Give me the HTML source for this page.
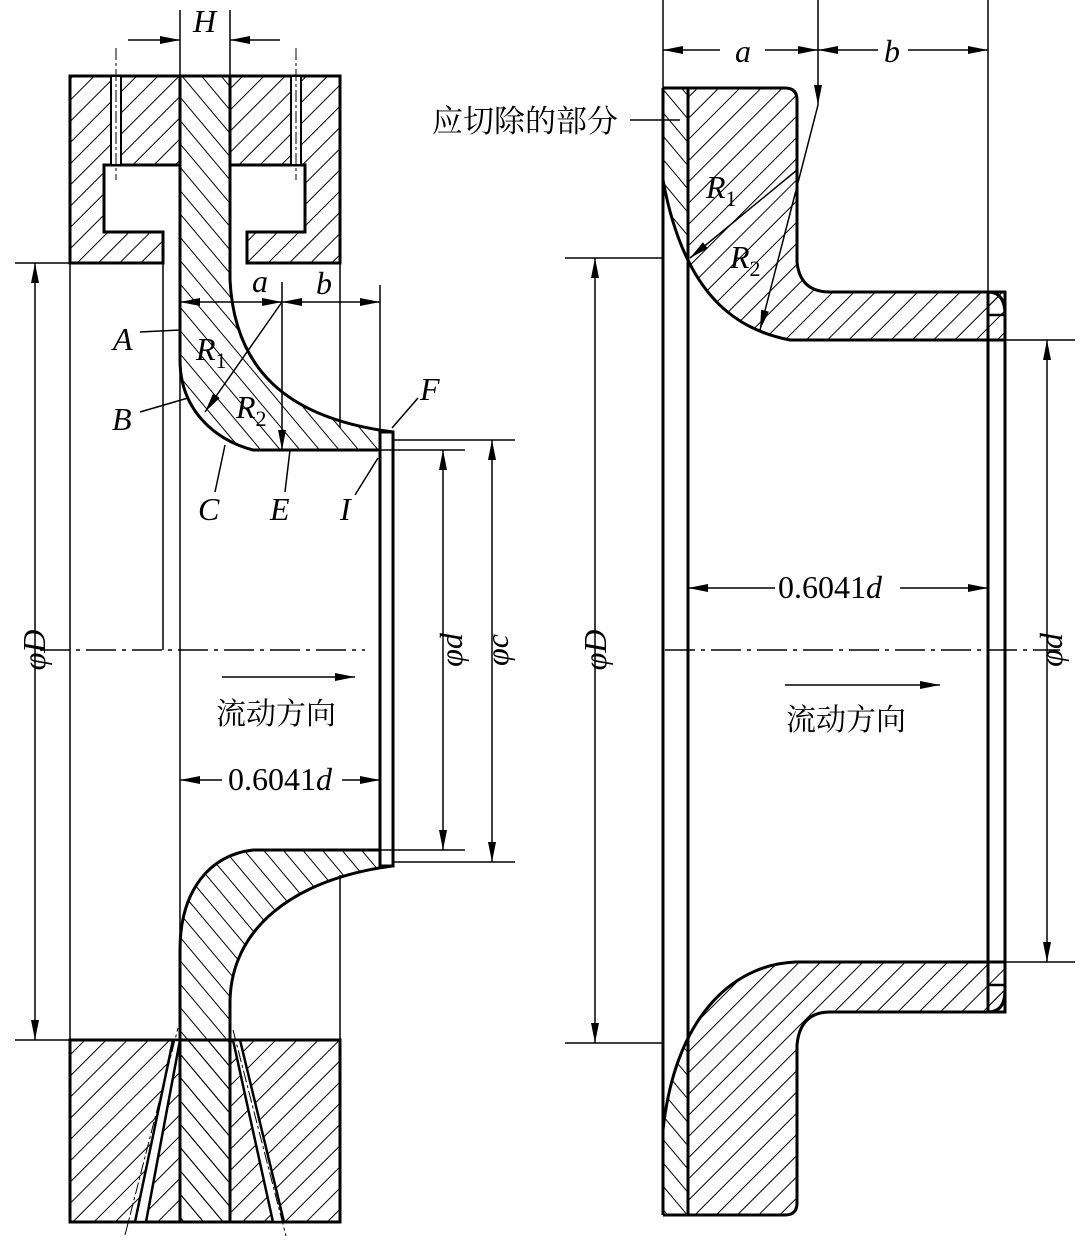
<!DOCTYPE html>
<html><head><meta charset="utf-8"><style>
html,body{margin:0;padding:0;background:#fff}
svg{display:block}
text{font-family:"Liberation Serif","Noto Serif CJK SC",serif;fill:#000}
.it{font-style:italic}
.cn{font-family:"Liberation Serif","Noto Serif CJK SC",serif}
</style></head><body>
<svg width="1080" height="1246" viewBox="0 0 1080 1246" xmlns="http://www.w3.org/2000/svg">
<defs>
<pattern id="hf" width="15" height="15" patternUnits="userSpaceOnUse" patternTransform="rotate(45)"><line x1="0" y1="0" x2="0" y2="15" stroke="#000" stroke-width="2"/></pattern>
<pattern id="hb" width="15" height="15" patternUnits="userSpaceOnUse" patternTransform="rotate(-40)"><line x1="0" y1="0" x2="0" y2="15" stroke="#000" stroke-width="2"/></pattern>
<marker id="ar" viewBox="0 0 20 8" refX="20" refY="4" markerWidth="20" markerHeight="8" orient="auto-start-reverse" markerUnits="userSpaceOnUse"><path d="M0,0 L20,4 L0,8 Z" fill="#000"/></marker>
<clipPath id="rtop"><path d="M663,88 L785,88 Q797,88 797,100 L797,262 Q800,292 830,292 L988,292 Q1005,292 1005,315 L1005,340 L790,340 C740,330 685,300 663,180 Z"/></clipPath>
<clipPath id="rbot"><path d="M663,1215 L785,1215 Q797,1215 797,1203 L797,1045 Q800,1012 830,1012 L988,1012 Q1005,1012 1005,990 L1005,962 L795,962 C730,965 675,1020 663,1130 Z"/></clipPath>
</defs>
<g fill="none" stroke="#000">
<path d="M70,76 L180,76 L180,165 L104,165 L104,232 L163,232 L163,263 L70,263 Z" fill="url(#hf)" stroke-width="3"/>
<path d="M230,76 L340,76 L340,263 L247,263 L247,232 L305,232 L305,165 L230,165 Z" fill="url(#hf)" stroke-width="3"/>
<g stroke-width="2">
<rect x="111" y="76" width="10" height="89" fill="#fff"/><line x1="116" y1="48" x2="116" y2="180" stroke-width="1" stroke-dasharray="12,3,3,3"/>
<rect x="291" y="76" width="10" height="89" fill="#fff"/><line x1="296" y1="48" x2="296" y2="180" stroke-width="1" stroke-dasharray="12,3,3,3"/>
</g>
<path d="M180,76 L230,76 L230,280 C235,380 300,420 393,432 L393,450 L253,450 C215,440 180,410 180,360 Z" fill="url(#hb)" stroke-width="3"/>
<path d="M180,1222 L180,950 C180,890 210,855 253,850 L380,850 L392,866 C290,880 232,930 230,1000 L230,1222 Z" fill="url(#hb)" stroke-width="3"/>
<rect x="70" y="1040" width="110" height="182" fill="url(#hf)" stroke-width="3"/>
<rect x="230" y="1040" width="110" height="182" fill="url(#hf)" stroke-width="3"/>
<rect x="180" y="1040" width="50" height="182" fill="url(#hb)" stroke-width="3"/>
<path d="M135,1222 L173,1040 L180,1040 L146,1222 Z" fill="#fff" stroke-width="2.5"/>
<line x1="125" y1="1235" x2="178" y2="1028" stroke-width="1" stroke-dasharray="12,3,3,3"/>
<path d="M233,1040 L240,1040 L284,1222 L273,1222 Z" fill="#fff" stroke-width="2.5"/>
<line x1="233" y1="1030" x2="286" y2="1236" stroke-width="1" stroke-dasharray="12,3,3,3"/>
<rect x="380" y="432" width="13" height="434" fill="#fff" stroke-width="3"/>
<line x1="380" y1="450" x2="393" y2="450" stroke-width="1.5"/>
<line x1="380" y1="850" x2="393" y2="850" stroke-width="1.5"/>
<g stroke-width="1.5">
<line x1="70" y1="263" x2="70" y2="1040"/>
<line x1="180" y1="263" x2="180" y2="1040"/>
<line x1="163" y1="263" x2="163" y2="650"/>
<line x1="340" y1="263" x2="340" y2="428"/>
<line x1="340" y1="875" x2="340" y2="1040"/>
<line x1="15" y1="263" x2="70" y2="263"/>
<line x1="15" y1="1040" x2="70" y2="1040"/>
<line x1="35" y1="263" x2="35" y2="1040" marker-start="url(#ar)" marker-end="url(#ar)"/>
<line x1="40" y1="650" x2="365" y2="650" stroke-dasharray="30,6,4,6"/>
<line x1="180" y1="10" x2="180" y2="76"/>
<line x1="230" y1="10" x2="230" y2="76"/>
<line x1="128" y1="40" x2="180" y2="40" marker-end="url(#ar)"/>
<line x1="280" y1="40" x2="230" y2="40" marker-end="url(#ar)"/>
<line x1="180" y1="302" x2="282" y2="302" marker-start="url(#ar)" marker-end="url(#ar)"/>
<line x1="282" y1="302" x2="380" y2="302" marker-start="url(#ar)" marker-end="url(#ar)"/>
<line x1="282" y1="282" x2="282" y2="450" marker-end="url(#ar)"/>
<line x1="380" y1="285" x2="380" y2="432"/>
<line x1="393" y1="440" x2="515" y2="440"/>
<line x1="393" y1="450" x2="465" y2="450"/>
<line x1="393" y1="850" x2="465" y2="850"/>
<line x1="393" y1="862" x2="515" y2="862"/>
<line x1="443" y1="450" x2="443" y2="850" marker-start="url(#ar)" marker-end="url(#ar)"/>
<line x1="492" y1="440" x2="492" y2="862" marker-start="url(#ar)" marker-end="url(#ar)"/>
<line x1="222" y1="677" x2="355" y2="677" marker-end="url(#ar)"/>
<line x1="180" y1="780" x2="222" y2="780" marker-start="url(#ar)"/>
<line x1="342" y1="780" x2="380" y2="780" marker-end="url(#ar)"/>
<line x1="282" y1="302" x2="205" y2="412" marker-end="url(#ar)"/>
<line x1="140" y1="332" x2="180" y2="330"/>
<line x1="140" y1="412" x2="188" y2="398"/>
<line x1="215" y1="492" x2="225" y2="445"/>
<line x1="285" y1="492" x2="290" y2="450"/>
<line x1="392" y1="428" x2="418" y2="398"/>
<line x1="355" y1="495" x2="378" y2="458"/>
</g>
<g clip-path="url(#rtop)"><rect x="663" y="80" width="350" height="270" fill="url(#hf)" stroke="none"/><rect x="663" y="80" width="25" height="270" fill="#fff" stroke="none"/><rect x="663" y="80" width="25" height="270" fill="url(#hb)" stroke="none"/></g>
<g clip-path="url(#rbot)"><rect x="663" y="950" width="350" height="270" fill="url(#hf)" stroke="none"/><rect x="663" y="950" width="25" height="270" fill="#fff" stroke="none"/><rect x="663" y="950" width="25" height="270" fill="url(#hb)" stroke="none"/></g>
<path d="M663,88 L785,88 Q797,88 797,100 L797,262 Q800,292 830,292 L988,292 Q1005,292 1005,315 L1005,340 L790,340 C740,330 685,300 663,180" stroke-width="3"/>
<path d="M663,1215 L785,1215 Q797,1215 797,1203 L797,1045 Q800,1012 830,1012 L988,1012 Q1005,1012 1005,990 L1005,962 L795,962 C730,965 675,1020 663,1130" stroke-width="3"/>
<line x1="663" y1="88" x2="663" y2="1215" stroke-width="3"/>
<line x1="688" y1="88" x2="688" y2="1215" stroke-width="3"/>
<rect x="988" y="292" width="17" height="720" fill="none" stroke-width="3"/>
<rect x="988" y="292" width="17" height="23" fill="url(#hf)" stroke-width="0"/>
<rect x="988" y="985" width="17" height="27" fill="url(#hf)" stroke-width="0"/>
<line x1="988" y1="315" x2="1005" y2="315" stroke-width="2.5"/>
<line x1="988" y1="985" x2="1005" y2="985" stroke-width="2.5"/>
<g stroke-width="1.5">
<line x1="663" y1="0" x2="663" y2="88"/>
<line x1="988" y1="0" x2="988" y2="292"/>
<line x1="818" y1="0" x2="818" y2="105" marker-end="url(#ar)"/>
<line x1="663" y1="50" x2="720" y2="50" marker-start="url(#ar)"/>
<line x1="765" y1="50" x2="818" y2="50" marker-end="url(#ar)"/>
<line x1="818" y1="50" x2="878" y2="50" marker-start="url(#ar)"/>
<line x1="908" y1="50" x2="988" y2="50" marker-end="url(#ar)"/>
<line x1="818" y1="105" x2="760" y2="330" marker-end="url(#ar)"/>
<line x1="797" y1="170" x2="690" y2="258" marker-end="url(#ar)"/>
<line x1="630" y1="120" x2="680" y2="120"/>
<line x1="565" y1="258" x2="663" y2="258"/>
<line x1="565" y1="1043" x2="663" y2="1043"/>
<line x1="595" y1="258" x2="595" y2="1043" marker-start="url(#ar)" marker-end="url(#ar)"/>
<line x1="1005" y1="340" x2="1075" y2="340"/>
<line x1="1005" y1="962" x2="1075" y2="962"/>
<line x1="1047" y1="340" x2="1047" y2="962" marker-start="url(#ar)" marker-end="url(#ar)"/>
<line x1="688" y1="588" x2="775" y2="588" marker-start="url(#ar)"/>
<line x1="900" y1="588" x2="988" y2="588" marker-end="url(#ar)"/>
<line x1="665" y1="650" x2="1060" y2="650" stroke-dasharray="30,6,4,6"/>
<line x1="785" y1="685" x2="940" y2="685" marker-end="url(#ar)"/>
</g>
</g>
<g font-size="32">
<text x="193" y="32" class="it">H</text>
<text x="252" y="292" class="it">a</text>
<text x="316" y="294" class="it">b</text>
<text x="113" y="350" class="it">A</text>
<text x="112" y="430" class="it">B</text>
<text x="198" y="520" class="it">C</text>
<text x="270" y="520" class="it">E</text>
<text x="420" y="400" class="it">F</text>
<text x="340" y="520" class="it">I</text>
<text x="196" y="360" class="it">R<tspan font-size="22" font-style="normal" dy="8">1</tspan></text>
<text x="236" y="418" class="it">R<tspan font-size="22" font-style="normal" dy="8">2</tspan></text>
<text x="228" y="790">0.6041<tspan class="it">d</tspan></text>
<text transform="translate(45,650) rotate(-90)" text-anchor="middle" class="it">φD</text>
<text transform="translate(462,650) rotate(-90)" text-anchor="middle" class="it">φd</text>
<text transform="translate(508,650) rotate(-90)" text-anchor="middle" class="it">φc</text>
<text x="216" y="724" class="cn" font-size="30">流动方向</text>
<text x="735" y="62" class="it">a</text>
<text x="884" y="62" class="it">b</text>
<text x="706" y="198" class="it">R<tspan font-size="22" font-style="normal" dy="8">1</tspan></text>
<text x="730" y="268" class="it">R<tspan font-size="22" font-style="normal" dy="8">2</tspan></text>
<text x="432" y="132" class="cn" font-size="31">应切除的部分</text>
<text x="778" y="598">0.6041<tspan class="it">d</tspan></text>
<text transform="translate(606,650) rotate(-90)" text-anchor="middle" class="it">φD</text>
<text transform="translate(1062,650) rotate(-90)" text-anchor="middle" class="it">φd</text>
<text x="786" y="730" class="cn" font-size="30">流动方向</text>
</g>
</svg>
</body></html>
